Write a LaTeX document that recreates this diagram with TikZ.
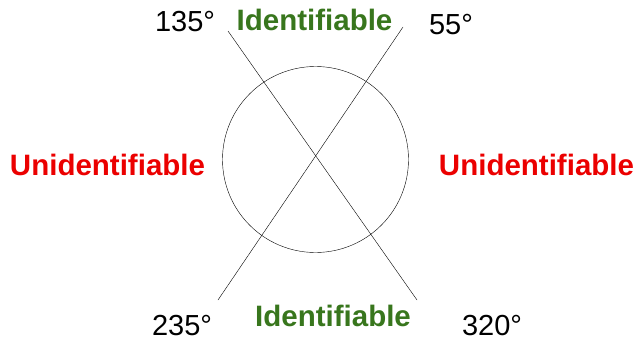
\documentclass[tikz,border=0pt]{standalone}
\usepackage{fontspec}
\setmainfont{Liberation Sans}
\definecolor{idgreen}{RGB}{56,118,29}
\definecolor{unred}{RGB}{235,0,0}

\begin{document}
\begin{tikzpicture}[x=1pt, y=-1pt,
    angle/.style={font=\fontsize{29}{32}\selectfont, inner sep=0pt},
    good/.style={text=idgreen, font=\fontsize{29.5}{32}\selectfont\bfseries, inner sep=0pt},
    bad/.style={text=unred, font=\fontsize{29.5}{32}\selectfont\bfseries, inner sep=0pt}]
            \useasboundingbox (0,0) rectangle (637,343);

            % Draw circle
            \node[circle, draw, thin, minimum size=186pt, inner sep=0pt] (C) at (315.5,159.5) {};

            % Draw end points of the two lines
            \coordinate (A1) at (228,31);
            \coordinate (A2) at (417,300);
            \coordinate (B1) at (403,27);
            \coordinate (B2) at (218,300);
            \draw[thin] (A1) -- (A2);
            \draw[thin] (B1) -- (B2);

            % Draw angle labels
            \node[angle] (a135) at (185,22) {135°};
            \node[angle] (a55) at (451,25) {55°};
            \node[angle] (a235) at (182,326) {235°};
            \node[angle] (a320) at (492,326) {320°};

            % Draw region labels
            \node[good] (top) at (314.5,20) {Identifiable};
            \node[good] (bottom) at (333,316) {Identifiable};
            \node[bad] (left) at (107.5,165) {Unidentifiable};
            \node[bad] (right) at (536.5,165) {Unidentifiable};
        \end{tikzpicture}
\end{document}
